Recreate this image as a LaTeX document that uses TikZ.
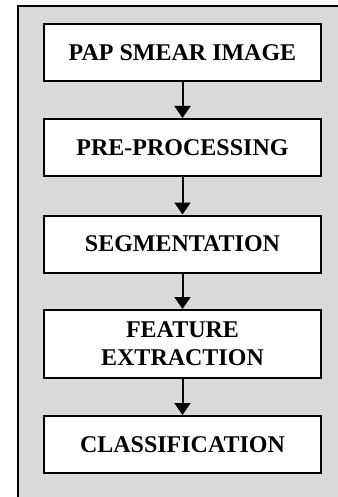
\documentclass[tikz,border=0pt]{standalone}
\usepackage{fontspec}
\setmainfont{Liberation Serif}
\usetikzlibrary{arrows.meta}
\definecolor{panelgray}{RGB}{217,217,217}

\begin{document}
\begin{tikzpicture}[x=1pt,y=-1pt,line width=2pt,
    stage/.style={draw, fill=white, minimum width=277pt, minimum height=57pt,
      inner sep=0pt, align=center, font=\bfseries\fontsize{24}{28}\selectfont},
    flow/.style={-{Triangle[length=12pt,width=16pt]}}]

% pap smear pipeline
\useasboundingbox (0,0) rectangle (337,497);
\draw[fill=panelgray] (18,6) rectangle (350,510);

\node[stage] (pap) at (182.5, 52.5) {PAP SMEAR IMAGE};
\node[stage] (pre) at (182.5,147.5) {PRE-PROCESSING};
\node[stage] (seg) at (182.5,244.0) {SEGMENTATION};
\node[stage, minimum height=68pt] (fea) at (182.5,344.0) {FEATURE\\EXTRACTION};
\node[stage] (cls) at (182.5,444.5) {CLASSIFICATION};

\draw[flow] (pap) -- (pre);
\draw[flow] (pre) -- (seg);
\draw[flow] (seg) -- (fea);
\draw[flow] (fea) -- (cls);

\end{tikzpicture}
\end{document}
